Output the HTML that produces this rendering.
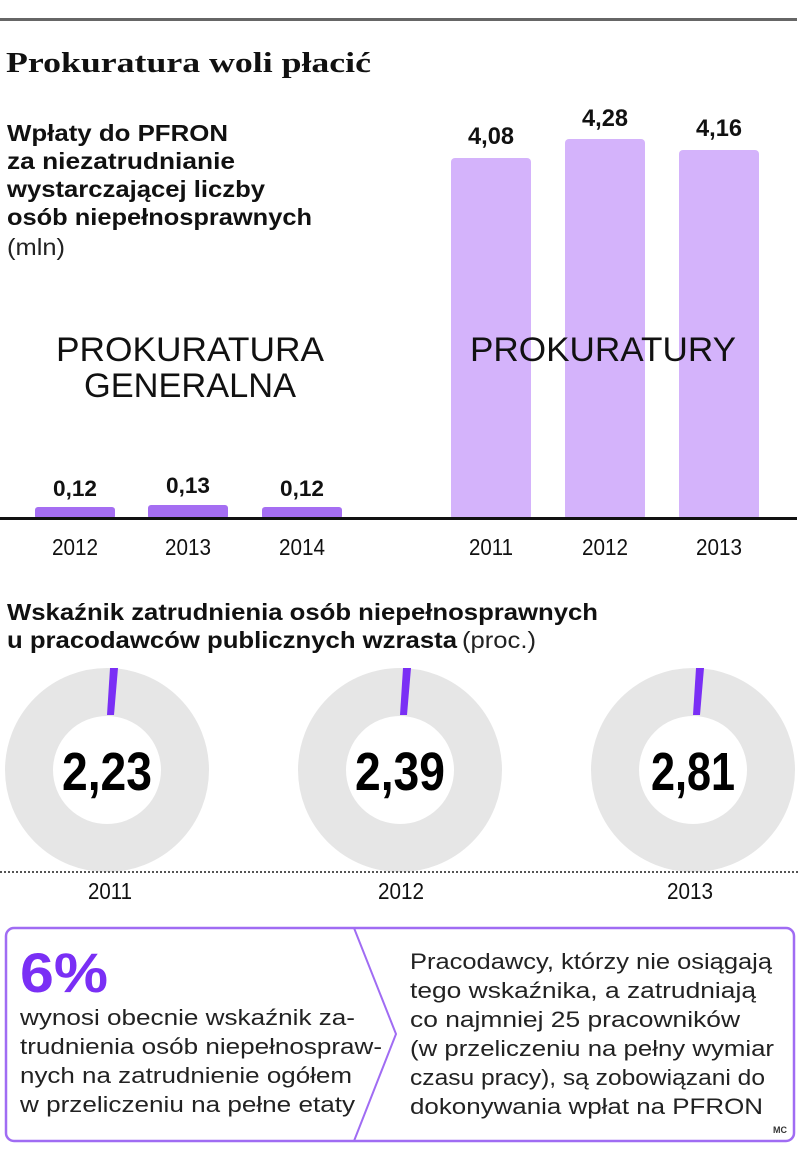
<!DOCTYPE html>
<html><head><meta charset="utf-8"><style>
body{margin:0;background:#fff;}
svg{display:block;font-family:"Liberation Sans",sans-serif;}
</style></head><body>
<svg width="805" height="1160" viewBox="0 0 805 1160" xmlns="http://www.w3.org/2000/svg">
<rect x="0" y="18" width="797" height="3" fill="#666"/>
<text x="6" y="72" font-family="Liberation Serif,serif" font-weight="bold" font-size="29" textLength="365" lengthAdjust="spacingAndGlyphs" fill="#111">Prokuratura woli płacić</text>
<g font-weight="bold" font-size="23" fill="#111">
<text x="7" y="141" textLength="221" lengthAdjust="spacingAndGlyphs">Wpłaty do PFRON</text>
<text x="7" y="169" textLength="228" lengthAdjust="spacingAndGlyphs">za niezatrudnianie</text>
<text x="7" y="197" textLength="258" lengthAdjust="spacingAndGlyphs">wystarczającej liczby</text>
<text x="7" y="225" textLength="305" lengthAdjust="spacingAndGlyphs">osób niepełnosprawnych</text>
</g>
<text x="7" y="255" font-size="23" fill="#222" textLength="58" lengthAdjust="spacingAndGlyphs">(mln)</text>
<g fill="#d4b3fb">
<rect x="451" y="158" width="80" height="362" rx="4"/>
<rect x="565" y="139" width="80" height="381" rx="4"/>
<rect x="679" y="150" width="80" height="370" rx="4"/>
</g>
<g fill="#a56ef2">
<rect x="35" y="507" width="80" height="12" rx="3"/>
<rect x="148" y="505" width="80" height="14" rx="3"/>
<rect x="262" y="507" width="80" height="12" rx="3"/>
</g>
<rect x="0" y="517" width="797" height="3" fill="#111"/>
<g font-weight="bold" font-size="24" fill="#111" text-anchor="middle">
<text x="491" y="144" textLength="46" lengthAdjust="spacingAndGlyphs">4,08</text><text x="605" y="126" textLength="46" lengthAdjust="spacingAndGlyphs">4,28</text><text x="719" y="136" textLength="46" lengthAdjust="spacingAndGlyphs">4,16</text>
<text x="75" y="496" font-size="22" textLength="44" lengthAdjust="spacingAndGlyphs">0,12</text><text x="188" y="493" font-size="22" textLength="44" lengthAdjust="spacingAndGlyphs">0,13</text><text x="302" y="496" font-size="22" textLength="44" lengthAdjust="spacingAndGlyphs">0,12</text>
</g>
<g font-size="23" fill="#111" text-anchor="middle">
<text x="75" y="555" textLength="46" lengthAdjust="spacingAndGlyphs">2012</text><text x="188" y="555" textLength="46" lengthAdjust="spacingAndGlyphs">2013</text><text x="302" y="555" textLength="46" lengthAdjust="spacingAndGlyphs">2014</text>
<text x="491" y="555" textLength="44" lengthAdjust="spacingAndGlyphs">2011</text><text x="605" y="555" textLength="46" lengthAdjust="spacingAndGlyphs">2012</text><text x="719" y="555" textLength="46" lengthAdjust="spacingAndGlyphs">2013</text>
</g>
<g font-size="34" fill="#111" text-anchor="middle">
<text x="190" y="361" textLength="268" lengthAdjust="spacingAndGlyphs">PROKURATURA</text>
<text x="190" y="397" textLength="212" lengthAdjust="spacingAndGlyphs">GENERALNA</text>
<text x="603" y="361" textLength="266" lengthAdjust="spacingAndGlyphs">PROKURATURY</text>
</g>
<text x="7" y="620" font-weight="bold" font-size="23" fill="#111" textLength="591" lengthAdjust="spacingAndGlyphs">Wskaźnik zatrudnienia osób niepełnosprawnych</text>
<text x="7" y="648" font-weight="bold" font-size="23" fill="#111" textLength="450" lengthAdjust="spacingAndGlyphs">u pracodawców publicznych wzrasta</text>
<text x="462" y="648" font-size="23" fill="#222" textLength="74" lengthAdjust="spacingAndGlyphs">(proc.)</text>
<g>
<g transform="translate(107,770)"><ellipse rx="78" ry="78" fill="none" stroke="#e6e6e6" stroke-width="48"/><polygon points="0,-55 3,-102 11,-102 7,-55" fill="#7a2ff5"/><text y="20" text-anchor="middle" font-weight="bold" font-size="54" fill="#000" textLength="90" lengthAdjust="spacingAndGlyphs">2,23</text></g>
<g transform="translate(400,770)"><ellipse rx="78" ry="78" fill="none" stroke="#e6e6e6" stroke-width="48"/><polygon points="0,-55 3,-102 11,-102 7,-55" fill="#7a2ff5"/><text y="20" text-anchor="middle" font-weight="bold" font-size="54" fill="#000" textLength="90" lengthAdjust="spacingAndGlyphs">2,39</text></g>
<g transform="translate(693,770)"><ellipse rx="78" ry="78" fill="none" stroke="#e6e6e6" stroke-width="48"/><polygon points="0,-55 3,-102 11,-102 7,-55" fill="#7a2ff5"/><text y="20" text-anchor="middle" font-weight="bold" font-size="54" fill="#000" textLength="84" lengthAdjust="spacingAndGlyphs">2,81</text></g>
</g>
<line x1="0" y1="872" x2="800" y2="872" stroke="#555" stroke-width="2" stroke-dasharray="2,2"/>
<g font-size="23" fill="#111" text-anchor="middle">
<text x="110" y="899" textLength="44" lengthAdjust="spacingAndGlyphs">2011</text><text x="401" y="899" textLength="46" lengthAdjust="spacingAndGlyphs">2012</text><text x="690" y="899" textLength="46" lengthAdjust="spacingAndGlyphs">2013</text>
</g>
<rect x="6" y="928" width="788" height="213" rx="8" fill="none" stroke="#a06cf3" stroke-width="2.5"/>
<polyline points="354,928 396,1034 354,1141" fill="none" stroke="#a06cf3" stroke-width="2"/>
<text x="20" y="992" font-weight="bold" font-size="56" fill="#7a2ff5" textLength="88" lengthAdjust="spacingAndGlyphs">6%</text>
<g font-size="22" fill="#222">
<text x="20" y="1025" textLength="335" lengthAdjust="spacingAndGlyphs">wynosi obecnie wskaźnik za-</text>
<text x="20" y="1054" textLength="362" lengthAdjust="spacingAndGlyphs">trudnienia osób niepełnospraw-</text>
<text x="20" y="1083" textLength="332" lengthAdjust="spacingAndGlyphs">nych na zatrudnienie ogółem</text>
<text x="20" y="1112" textLength="335" lengthAdjust="spacingAndGlyphs">w przeliczeniu na pełne etaty</text>
<text x="410" y="969" textLength="362" lengthAdjust="spacingAndGlyphs">Pracodawcy, którzy nie osiągają</text>
<text x="410" y="998" textLength="346" lengthAdjust="spacingAndGlyphs">tego wskaźnika, a zatrudniają</text>
<text x="410" y="1027" textLength="330" lengthAdjust="spacingAndGlyphs">co najmniej 25 pracowników</text>
<text x="410" y="1056" textLength="364" lengthAdjust="spacingAndGlyphs">(w przeliczeniu na pełny wymiar</text>
<text x="410" y="1085" textLength="355" lengthAdjust="spacingAndGlyphs">czasu pracy), są zobowiązani do</text>
<text x="410" y="1114" textLength="353" lengthAdjust="spacingAndGlyphs">dokonywania wpłat na PFRON</text>
</g>
<text x="787" y="1133" font-size="9" font-weight="bold" fill="#333" text-anchor="end">MC</text>
</svg>
</body></html>
